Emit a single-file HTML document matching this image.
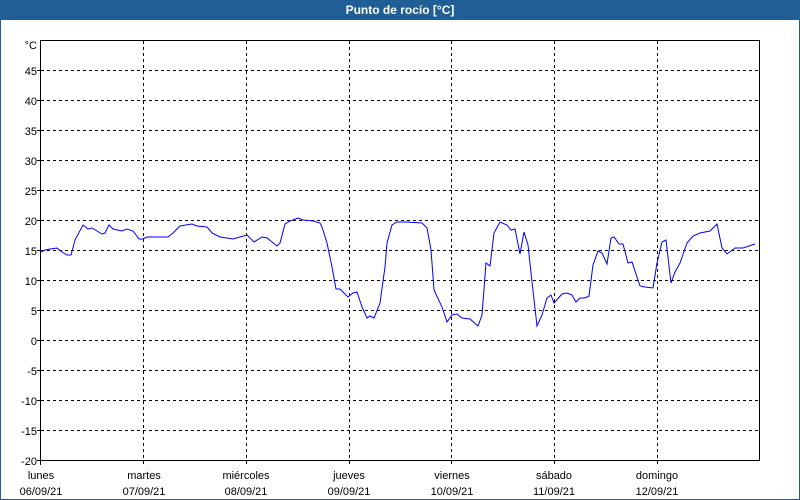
<!DOCTYPE html>
<html><head><meta charset="utf-8"><style>
html,body{margin:0;padding:0;background:#fff}
svg{display:block}
text{font-family:"Liberation Sans",sans-serif;font-size:11px;fill:#000}
</style></head><body>
<svg width="800" height="500" viewBox="0 0 800 500">
<rect x="0" y="0" width="800" height="500" fill="#fff"/>
<rect x="0" y="0" width="800" height="20" fill="#1f5f96"/>
<rect x="0" y="0" width="1" height="500" fill="#1f5f96"/>
<rect x="799" y="0" width="1" height="500" fill="#1f5f96"/>
<rect x="0" y="499" width="800" height="1" fill="#1f5f96"/>
<text x="400" y="14" text-anchor="middle" style="font-weight:bold;fill:#fff;font-size:12px">Punto de rocío [°C]</text>
<g stroke="#000" stroke-width="1" stroke-dasharray="3,3" fill="none">
<path d="M41 70.5H760M41 100.5H760M41 130.5H760M41 160.5H760M41 190.5H760M41 220.5H760M41 250.5H760M41 280.5H760M41 310.5H760M41 340.5H760M41 370.5H760M41 400.5H760M41 430.5H760"/>
<path d="M143.5 41V465M246.5 41V465M349.5 41V465M451.5 41V465M554.5 41V465M657.5 41V465"/>
</g>
<g stroke="#000" stroke-width="1" fill="none">
<path d="M40.5 40.5H759.5V460.5H40.5Z"/>
<path d="M37 70.5H41M37 100.5H41M37 130.5H41M37 160.5H41M37 190.5H41M37 220.5H41M37 250.5H41M37 280.5H41M37 310.5H41M37 340.5H41M37 370.5H41M37 400.5H41M37 430.5H41M37 460.5H41M40.5 460V465"/>
</g>
<g text-anchor="end">
<text x="37" y="49">°C</text>
<text x="37" y="75">45</text><text x="37" y="105">40</text><text x="37" y="135">35</text>
<text x="37" y="165">30</text><text x="37" y="195">25</text><text x="37" y="225">20</text>
<text x="37" y="255">15</text><text x="37" y="285">10</text><text x="37" y="315">5</text>
<text x="37" y="345">0</text><text x="37" y="375">-5</text><text x="37" y="405">-10</text>
<text x="37" y="435">-15</text><text x="37" y="465">-20</text>
</g>
<g text-anchor="middle">
<text x="41" y="479">lunes</text><text x="41" y="495">06/09/21</text>
<text x="144" y="479">martes</text><text x="144" y="495">07/09/21</text>
<text x="246" y="479">miércoles</text><text x="246" y="495">08/09/21</text>
<text x="349" y="479">jueves</text><text x="349" y="495">09/09/21</text>
<text x="452" y="479">viernes</text><text x="452" y="495">10/09/21</text>
<text x="554" y="479">sábado</text><text x="554" y="495">11/09/21</text>
<text x="657" y="479">domingo</text><text x="657" y="495">12/09/21</text>
</g>
<polyline fill="none" stroke="#0000ff" stroke-width="1" points="41,252 45,250 50,249 57,248 62,252 67,255 71,255 75,240 83,225 88,229 92,228 102,234 105,233 109,225 113,229 122,231 127,229 133,231 139,239 143,239 147,237 157,237 168,237 173,233 180,226 192,224 197,226 207,227 212,233 220,237 233,239 240,237 247,235 254,242 262,237 267,238 272,242 277,246 280,243 285,224 290,221 298,218 303,220 313,221 320,223 322,227 327,243 332,267 336,289 340,289 348,297 353,293 357,292 362,307 367,318 370,316 374,318 380,303 385,267 387,243 392,225 397,222 407,222 422,223 427,228 431,250 434,290 442,307 447,322 452,315 457,314 462,318 470,319 478,326 482,315 486,263 490,266 494,233 500,222 507,225 511,230 515,229 520,254 524,232 528,245 532,282 537,326 542,315 547,298 551,295 554,303 562,294 567,293 572,295 576,302 580,298 585,298 589,296 593,265 598,251 602,253 607,264 611,238 614,237 619,244 623,244 628,263 632,262 640,286 645,287 653,288 657,263 662,242 666,240 671,283 675,272 680,263 687,243 693,236 700,233 710,231 717,224 722,248 727,254 735,248 743,248 755,244"/>
</svg>
</body></html>
